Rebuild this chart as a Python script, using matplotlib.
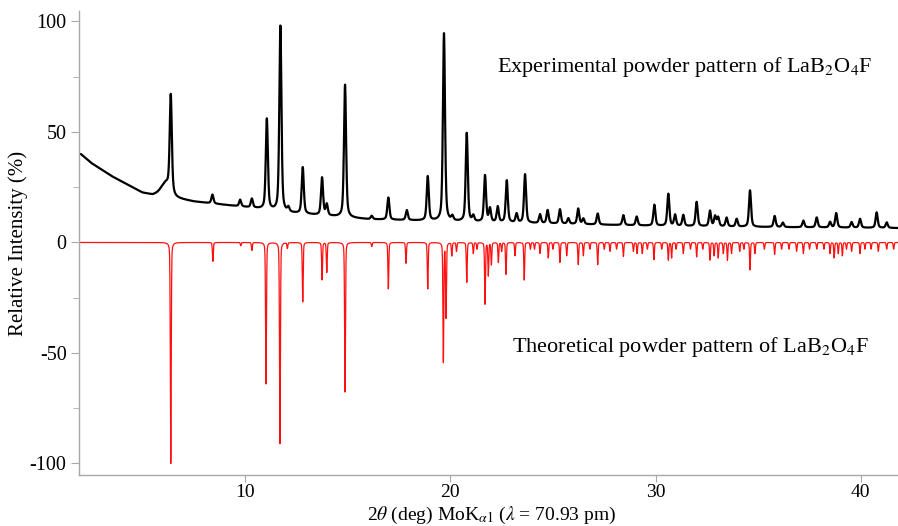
import numpy as np
import matplotlib
matplotlib.use('Agg')
import matplotlib.pyplot as plt
from matplotlib.ticker import MultipleLocator

plt.rcParams['font.family'] = ['Liberation Serif', 'DejaVu Serif']
plt.rcParams['mathtext.fontset'] = 'stix'
plt.rcParams['axes.unicode_minus'] = False

# ================== DATA ==================
# experimental background (2theta, %)
bg_pos = [2.0, 2.5, 3.0, 3.5, 4.0, 4.5, 5.0, 5.5, 5.9, 6.6, 7.5, 9.0, 10.5,
          12.0, 14.0, 16.0, 20.0, 25.0, 30.0, 35.0, 42.0]
bg_val = [40, 36, 33, 30, 27.5, 25, 22.5, 21.5, 22.5, 20, 18.5, 17, 15.5,
          13.5, 12, 10.5, 9.5, 8.5, 7.5, 7, 6.5]

# experimental peaks: position, height above background
exp_pos = [6.15, 6.38, 8.41, 9.76, 10.33, 11.06, 11.72, 12.11, 12.81, 13.75,
           13.98, 14.87, 16.17, 16.98, 17.88, 18.90, 19.69, 20.10, 20.80, 21.12,
           21.69, 21.93, 22.31, 22.75, 23.23, 23.64, 24.37, 24.74, 25.34, 25.75,
           26.23, 26.48, 27.18, 28.43, 29.08, 29.94, 30.62, 30.95, 31.35, 32.00,
           32.65, 32.90, 33.05, 33.46, 33.95, 34.60, 35.80, 36.20, 37.20, 37.85,
           38.50, 38.80, 39.55, 39.96, 40.77, 41.26]
exp_int = [5, 44, 4, 3, 4, 41, 84, 2, 21, 17,
           5, 60, 1.5, 10, 4.5, 20, 85, 2, 40, 2.5,
           21, 6, 7, 19, 4, 22, 4, 6, 6.5, 2.5,
           7, 2.5, 5, 4.5, 4, 9.5, 14.5, 5, 5, 11,
           7, 4.5, 4, 4, 3.5, 16.5, 5, 2, 3, 4.5,
           2.5, 6.5, 2.5, 4, 7, 2.5]
exp_fwhm = [0.45] + [0.12] * (len(exp_pos) - 1)

# theoretical peaks: position, relative intensity
th_pos = [6.38, 8.43, 9.79, 10.33, 11.02, 11.70, 12.06, 12.81, 13.75, 13.98,
          14.87, 16.17, 16.98, 17.84, 18.90, 19.66, 19.79, 20.07, 20.30, 20.80,
          21.12, 21.30, 21.69, 21.85, 22.00, 22.34, 22.50, 22.71, 23.15, 23.60,
          23.90, 24.10, 24.37, 24.77, 25.00, 25.34, 25.67, 26.23, 26.48, 26.80,
          27.18, 27.50, 27.78, 28.10, 28.43, 28.92, 29.10, 29.35, 29.60, 29.92,
          30.30, 30.62, 30.78, 31.00, 31.35, 31.70, 32.00, 32.30, 32.65, 32.85,
          33.05, 33.30, 33.50, 33.70, 34.10, 34.30, 34.60, 34.84, 35.30, 35.80,
          36.14, 36.50, 36.87, 37.20, 37.50, 37.85, 38.20, 38.50, 38.70, 38.90,
          39.10, 39.30, 39.55, 39.96, 40.20, 40.50, 40.85, 41.26, 41.60]
th_int = [100, 8.6, 1.5, 3.6, 64, 91, 2.6, 27, 17, 13.5,
          68, 1.8, 21, 9.4, 21, 54, 34, 6, 4, 18,
          5, 3, 28, 15, 10, 9, 4, 14.5, 6, 17,
          3, 3, 5, 7, 3, 9, 6, 10, 6, 3,
          10, 3, 4, 3, 6.3, 4, 5, 5, 3, 7.8,
          3, 8, 7, 3, 5, 3, 6.5, 3, 8, 6,
          7, 5, 8, 5, 4, 3, 12.4, 5, 3, 5.4,
          3, 3, 4, 5, 3, 3, 3, 5, 7, 5,
          6, 3, 4, 5, 3, 3, 4, 3, 3]

x_ticks = [10, 20, 30, 40]
y_ticks = [-100, -50, 0, 50, 100]
exp_label = 'Experimental powder pattern of LaB$_2$O$_4$F'
th_label = 'Theoretical powder pattern of LaB$_2$O$_4$F'


# ================== PROFILES ==================
def pseudo_voigt(x, pos, height, fwhm, eta=0.5):
    g = np.exp(-4 * np.log(2) * ((x - pos) / fwhm) ** 2)
    l = 1 / (1 + 4 * ((x - pos) / fwhm) ** 2)
    return height * (eta * l + (1 - eta) * g)


tt = np.arange(1.9, 42.0, 0.004)

y_exp = np.interp(tt, bg_pos, bg_val)
for p, h, w in zip(exp_pos, exp_int, exp_fwhm):
    y_exp += pseudo_voigt(tt, p, h, w)

y_th = np.zeros_like(tt)
for p, h in zip(th_pos, th_int):
    y_th -= pseudo_voigt(tt, p, h, 0.05, eta=0.3)

# ================== PLOT ==================
fig = plt.figure(figsize=(8.98, 5.26), dpi=100)
ax = fig.add_axes([0.088, 0.097, 0.912, 0.882])

ax.plot(tt, y_exp, color='black', lw=1.6)
ax.plot(tt, y_th, color='#ff1010', lw=0.9)

ax.set_xlim(1.91, 41.81)
ax.set_ylim(-105.2, 104.7)
ax.set_xticks(x_ticks)
ax.set_yticks(y_ticks)
ax.yaxis.set_minor_locator(MultipleLocator(25))

for s in ['top', 'right']:
    ax.spines[s].set_visible(False)
for s in ['left', 'bottom']:
    ax.spines[s].set_color('#a8a8a8')
    ax.spines[s].set_linewidth(1.0)
ax.tick_params(axis='both', which='major', direction='out', length=6,
               color='#a8a8a8', labelsize=14.5, pad=3)
ax.tick_params(axis='x', which='major', length=5, labelsize=14, pad=1.5)
ax.tick_params(axis='y', which='minor', direction='out', length=4,
               color='#a8a8a8')

fig.text(18 / 898, 1 - 243 / 526, 'Relative Intensity (%)', fontsize=15,
         rotation=90, ha='center', va='center')
fig.text(492 / 898, 0.5 / 526,
         r'2$\theta$ (deg) MoK$_{\alpha1}$ ($\lambda$ = 70.93 pm)',
         fontsize=14, ha='center', va='bottom')

ax.text(22.27, 79.2, exp_label, fontsize=16, va='center', ha='left')
ax.text(23.0, -47.5, th_label, fontsize=16, va='center', ha='left')

fig.savefig('out.png', dpi=100)
